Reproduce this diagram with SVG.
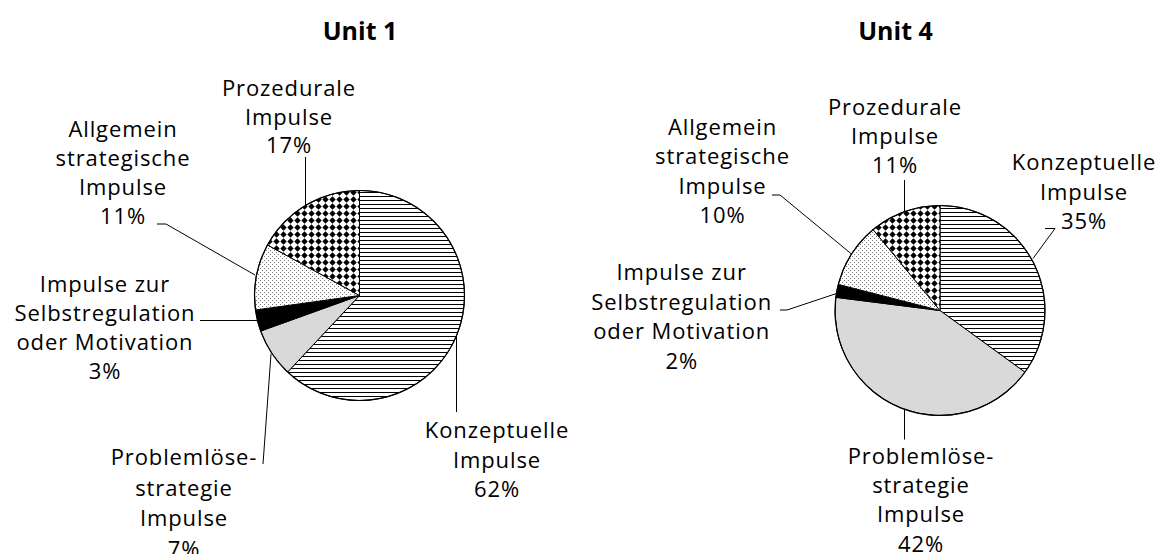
<svg xmlns="http://www.w3.org/2000/svg" width="1165" height="554" viewBox="0 0 1165 554">
  <defs>
    <style>
      .lbl { font-family: "Open Sans", "Liberation Sans", sans-serif; font-size: 22px; letter-spacing: 0.9px; text-anchor: middle; fill: #000; }
      .title { font-family: "Open Sans", "Liberation Sans", sans-serif; font-size: 25px; font-weight: bold; text-anchor: middle; fill: #000; }
      .slice { stroke: #000; stroke-width: 1; stroke-linejoin: round; }
      .rim { fill: none; stroke: #000; stroke-width: 1.2; }
      .leader { fill: none; stroke: #000; stroke-width: 1; }
      .stripes { fill: url(#hStripes); }
      .grey { fill: #d9d9d9; }
      .black { fill: #000; }
      .dots { fill: url(#fineDots); }
      .diamonds { fill: url(#solidDiamonds); }
    </style>
    <!-- horizontal hatching -->
    <pattern id="hStripes" patternUnits="userSpaceOnUse" width="8" height="4">
      <rect width="8" height="4" fill="#fff"/>
      <rect y="0" width="8" height="1" fill="#000"/>
    </pattern>
    <!-- sparse grey dots -->
    <pattern id="fineDots" patternUnits="userSpaceOnUse" width="4" height="4">
      <rect width="4" height="4" fill="#fff"/>
      <rect x="0" y="0" width="1" height="1" fill="#777"/>
      <rect x="2" y="2" width="1" height="1" fill="#777"/>
    </pattern>
    <!-- solid diamond grid -->
    <pattern id="solidDiamonds" patternUnits="userSpaceOnUse" width="7" height="7">
      <rect width="7" height="7" fill="#fff"/>
      <polygon points="3.5,0.3 6.7,3.5 3.5,6.7 0.3,3.5" fill="#000"/>
    </pattern>
  </defs>

  <rect width="1165" height="554" fill="#fff"/>

  <!-- ===== Unit 1 ===== -->
  <g id="unit1-title"><text class="title" x="360" y="40">Unit 1</text></g>

  <g id="unit1-pie">
    <path id="u1-konzeptuell" class="slice stripes" d="M359.5 295.5 L359.5 190.5 A105 105 0 1 1 287.63 372.05 Z"/>
    <path id="u1-problemloese" class="slice grey" d="M359.5 295.5 L287.63 372.05 A105 105 0 0 1 260.71 331.06 Z"/>
    <path id="u1-selbstregulation" class="slice black" d="M359.5 295.5 L260.71 331.06 A105 105 0 0 1 255.5 309.97 Z"/>
    <path id="u1-allgemein" class="slice dots" d="M359.5 295.5 L255.5 309.97 A105 105 0 0 1 267.49 244.91 Z"/>
    <path id="u1-prozedural" class="slice diamonds" d="M359.5 295.5 L267.49 244.91 A105 105 0 0 1 359.5 190.5 Z"/>
    <circle class="rim" cx="359.5" cy="295.5" r="105"/>
  </g>

  <g id="u1-label-prozedural">
    <text class="lbl"><tspan x="289" y="96">Prozedurale</tspan><tspan x="289" y="124.5">Impulse</tspan><tspan x="289" y="153">17%</tspan></text>
  </g>
  <g id="u1-label-allgemein">
    <text class="lbl"><tspan x="123" y="137">Allgemein</tspan><tspan x="123" y="166">strategische</tspan><tspan x="123" y="195">Impulse</tspan><tspan x="123" y="224">11%</tspan></text>
  </g>
  <g id="u1-label-selbstregulation">
    <text class="lbl"><tspan x="105" y="291.5">Impulse zur</tspan><tspan x="105" y="320.5">Selbstregulation</tspan><tspan x="105" y="349.5">oder Motivation</tspan><tspan x="105" y="379">3%</tspan></text>
  </g>
  <g id="u1-label-problemloese">
    <text class="lbl"><tspan x="184" y="465">Problemlöse-</tspan><tspan x="184" y="495.5">strategie</tspan><tspan x="184" y="526">Impulse</tspan><tspan x="184" y="557">7%</tspan></text>
  </g>
  <g id="u1-label-konzeptuell">
    <text class="lbl"><tspan x="497" y="437.5">Konzeptuelle</tspan><tspan x="497" y="467.5">Impulse</tspan><tspan x="497" y="497">62%</tspan></text>
  </g>

  <!-- ===== Unit 4 ===== -->
  <g id="unit4-title"><text class="title" x="895.5" y="40">Unit 4</text></g>

  <g id="unit4-pie">
    <path id="u4-konzeptuell" class="slice stripes" d="M940 310.5 L940 205.5 A105 105 0 0 1 1024.95 372.22 Z"/>
    <path id="u4-problemloese" class="slice grey" d="M940 310.5 L1024.95 372.22 A105 105 0 0 1 835.83 297.34 Z"/>
    <path id="u4-selbstregulation" class="slice black" d="M940 310.5 L835.83 297.34 A105 105 0 0 1 838.3 284.39 Z"/>
    <path id="u4-allgemein" class="slice dots" d="M940 310.5 L838.3 284.39 A105 105 0 0 1 873.07 229.6 Z"/>
    <path id="u4-prozedural" class="slice diamonds" d="M940 310.5 L873.07 229.6 A105 105 0 0 1 940 205.5 Z"/>
    <circle class="rim" cx="940" cy="310.5" r="105"/>
  </g>

  <g id="u4-label-prozedural">
    <text class="lbl"><tspan x="895" y="114.5">Prozedurale</tspan><tspan x="895" y="143.5">Impulse</tspan><tspan x="895" y="173">11%</tspan></text>
  </g>
  <g id="u4-label-konzeptuell">
    <text class="lbl"><tspan x="1084" y="170">Konzeptuelle</tspan><tspan x="1084" y="199.5">Impulse</tspan><tspan x="1084" y="229">35%</tspan></text>
  </g>
  <g id="u4-label-allgemein">
    <text class="lbl"><tspan x="722.5" y="135">Allgemein</tspan><tspan x="722.5" y="164">strategische</tspan><tspan x="722.5" y="193.5">Impulse</tspan><tspan x="722.5" y="223">10%</tspan></text>
  </g>
  <g id="u4-label-selbstregulation">
    <text class="lbl"><tspan x="681.7" y="280">Impulse zur</tspan><tspan x="681.7" y="309.5">Selbstregulation</tspan><tspan x="681.7" y="339">oder Motivation</tspan><tspan x="681.7" y="368.5">2%</tspan></text>
  </g>
  <g id="u4-label-problemloese">
    <text class="lbl"><tspan x="921" y="463.5">Problemlöse-</tspan><tspan x="921" y="492.5">strategie</tspan><tspan x="921" y="522">Impulse</tspan><tspan x="921" y="551.5">42%</tspan></text>
  </g>

  <!-- leader lines from labels to slices -->
  <g id="connectors">
    <path class="leader" d="M305.5 157 V205.5"/>
    <path class="leader" d="M157 224 H166 L255 275"/>
    <path class="leader" d="M200 320.5 H257.5"/>
    <path class="leader" d="M263 464 L271 354"/>
    <path class="leader" d="M456.5 336 V412"/>

    <path class="leader" d="M904.5 180 V212"/>
    <path class="leader" d="M1045 228.5 H1055 L1033 258.5"/>
    <path class="leader" d="M772 195 H780 L851.5 254"/>
    <path class="leader" d="M780 310 H787 L836.5 293.5"/>
    <path class="leader" d="M904.5 409.5 V439.5"/>
  </g>
</svg>
